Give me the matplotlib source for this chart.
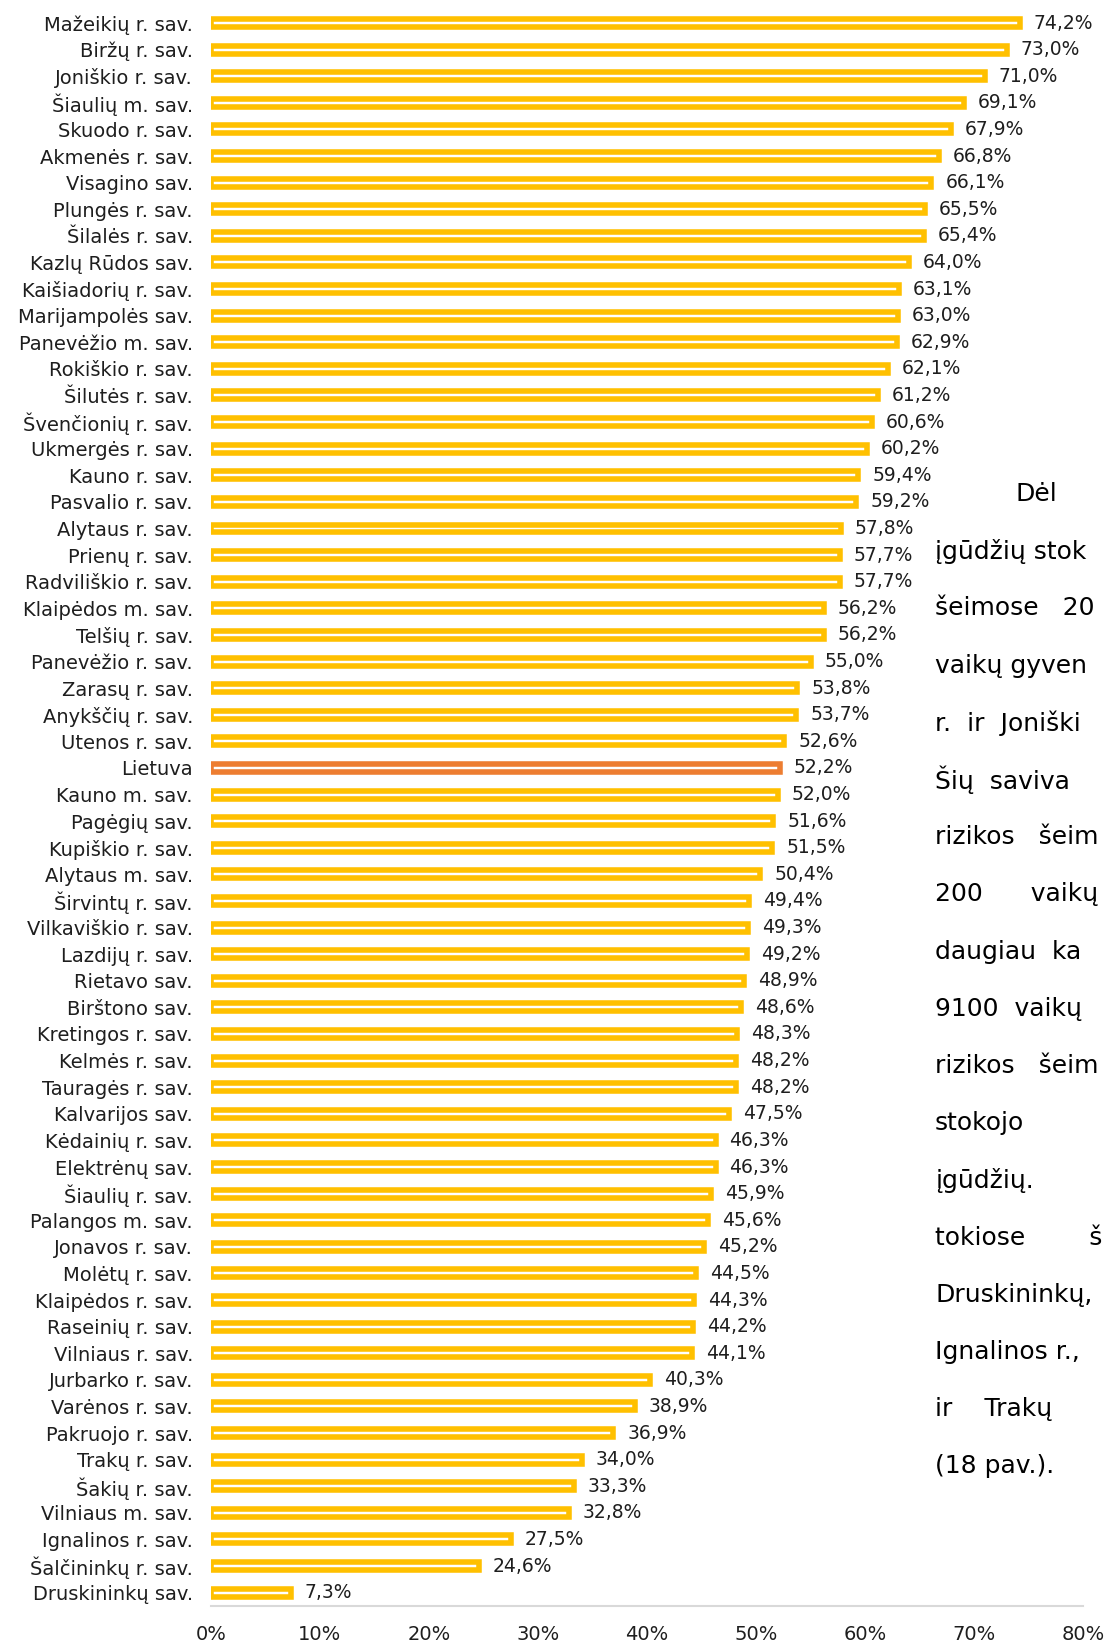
import numpy as np
import matplotlib
matplotlib.use("Agg")
import matplotlib.pyplot as plt

#%% Duomenys
savivaldybes = ["Mažeikių r. sav.", "Biržų r. sav.", "Joniškio r. sav.", "Šiaulių m. sav.",
                "Skuodo r. sav.", "Akmenės r. sav.", "Visagino sav.", "Plungės r. sav.",
                "Šilalės r. sav.", "Kazlų Rūdos sav.", "Kaišiadorių r. sav.", "Marijampolės sav.",
                "Panevėžio m. sav.", "Rokiškio r. sav.", "Šilutės r. sav.", "Švenčionių r. sav.",
                "Ukmergės r. sav.", "Kauno r. sav.", "Pasvalio r. sav.", "Alytaus r. sav.",
                "Prienų r. sav.", "Radviliškio r. sav.", "Klaipėdos m. sav.", "Telšių r. sav.",
                "Panevėžio r. sav.", "Zarasų r. sav.", "Anykščių r. sav.", "Utenos r. sav.",
                "Lietuva", "Kauno m. sav.", "Pagėgių sav.", "Kupiškio r. sav.",
                "Alytaus m. sav.", "Širvintų r. sav.", "Vilkaviškio r. sav.", "Lazdijų r. sav.",
                "Rietavo sav.", "Birštono sav.", "Kretingos r. sav.", "Kelmės r. sav.",
                "Tauragės r. sav.", "Kalvarijos sav.", "Kėdainių r. sav.", "Elektrėnų sav.",
                "Šiaulių r. sav.", "Palangos m. sav.", "Jonavos r. sav.", "Molėtų r. sav.",
                "Klaipėdos r. sav.", "Raseinių r. sav.", "Vilniaus r. sav.", "Jurbarko r. sav.",
                "Varėnos r. sav.", "Pakruojo r. sav.", "Trakų r. sav.", "Šakių r. sav.",
                "Vilniaus m. sav.", "Ignalinos r. sav.", "Šalčininkų r. sav.", "Druskininkų sav."]

procentai = [74.2, 73.0, 71.0, 69.1, 67.9, 66.8, 66.1, 65.5, 65.4, 64.0,
             63.1, 63.0, 62.9, 62.1, 61.2, 60.6, 60.2, 59.4, 59.2, 57.8,
             57.7, 57.7, 56.2, 56.2, 55.0, 53.8, 53.7, 52.6, 52.2, 52.0,
             51.6, 51.5, 50.4, 49.4, 49.3, 49.2, 48.9, 48.6, 48.3, 48.2,
             48.2, 47.5, 46.3, 46.3, 45.9, 45.6, 45.2, 44.5, 44.3, 44.2,
             44.1, 40.3, 38.9, 36.9, 34.0, 33.3, 32.8, 27.5, 24.6, 7.3]

x_ticks = [0, 10, 20, 30, 40, 50, 60, 70, 80]
x_tick_labels = ["0%", "10%", "20%", "30%", "40%", "50%", "60%", "70%", "80%"]

# tekstas dokumente desineje (nukirptas pagal paveiksla)
teksto_eilutes = ["Dėl", "įgūdžių stok", "šeimose   20", "vaikų gyven", "r.  ir  Joniški",
                  "Šių  saviva", "rizikos   šeim", "200      vaikų", "daugiau  ka",
                  "9100  vaikų", "rizikos   šeim", "stokojo", "įgūdžių.", "tokiose        š",
                  "Druskininkų,", "Ignalinos r.,", "ir    Trakų", "(18 pav.)."]

#%% Grafikas
plt.rcParams['font.family'] = ['DejaVu Sans']
geltona = "#FFC000"
oranzine = "#ED7D31"
tamsi = "#1E1E1E"

fig = plt.figure(figsize=(11.06, 16.45), dpi=100)
ax = fig.add_axes([211/1106, 1 - 1606/1645, (1083 - 211)/1106, (1606 - 9.7)/1645])

y = np.arange(len(savivaldybes))
spalvos = [oranzine if s == "Lietuva" else geltona for s in savivaldybes]
bars = ax.barh(y, procentai, height=0.30, color="white", edgecolor=spalvos, linewidth=4.0)

ax.bar_label(bars, labels=[("%.1f%%" % v).replace(".", ",") for v in procentai],
             padding=10, fontsize=13.5, color=tamsi)

ax.set_yticks(y)
ax.set_yticklabels(savivaldybes, fontsize=14, color=tamsi)
ax.set_ylim(len(savivaldybes) - 0.5, -0.5)
ax.set_xlim(0, 80)
ax.set_xticks(x_ticks)
ax.set_xticklabels(x_tick_labels, fontsize=14, color=tamsi)
ax.tick_params(axis="y", length=0, pad=13)
ax.tick_params(axis="x", length=0, pad=14)

for sp in ["top", "right", "left"]:
    ax.spines[sp].set_visible(False)
ax.spines["bottom"].set_color("#D9D9D9")
ax.spines["bottom"].set_linewidth(1.5)

# dokumento tekstas
for i, eil in enumerate(teksto_eilutes):
    xx = 1016 if i == 0 else 935
    fig.text(xx/1106, 1 - (494 + i*57.2)/1645, eil, fontsize=18, color="black",
             va="center", ha="left")

plt.savefig("out.png", dpi=100)
